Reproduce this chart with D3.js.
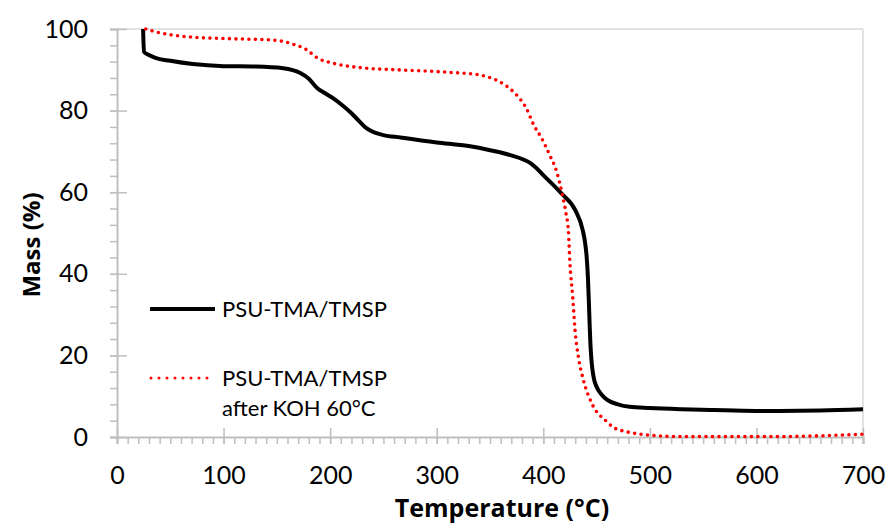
<!DOCTYPE html>
<html>
<head>
<meta charset="utf-8">
<script src="https://cdn.jsdelivr.net/npm/d3@7"></script>
<style>
  body { margin: 0; background: #fff; }
  text { font-family: Lato, "Open Sans", sans-serif; fill: #000; }
</style>
</head>
<body>
<svg id="chart" width="891" height="525"></svg>
<script>
const svg = d3.select("#chart"),
    width = +svg.attr("width"),
    height = +svg.attr("height");

const margin = {top: 29, right: 28, bottom: 88, left: 117};

// PSU-TMA/TMSP (black, solid)
const blackT = [24.5, 25.3, 30, 36, 50, 71, 100, 130, 156, 172, 180, 188, 195, 203, 212, 219, 227, 234, 242, 250, 266, 300, 330, 350, 369, 388, 403, 417, 430, 437, 439.3, 440.8, 441.9, 442.8, 443.5, 444.2, 445, 446, 447.5, 450, 455, 460, 470, 481, 500, 530, 560, 600, 622, 660, 700];
const blackM = [100, 94.4, 93.6, 92.9, 92.2, 91.4, 90.9, 90.8, 90.4, 89.2, 87.8, 85.5, 84.3, 83, 81.2, 79.6, 77.5, 75.7, 74.6, 74, 73.4, 72.2, 71.3, 70.3, 69.1, 67.1, 63.4, 59.7, 55.6, 50.7, 47.5, 43.8, 39, 33, 27.5, 23, 19.5, 16.8, 14.3, 12.3, 10.3, 9.1, 8.0, 7.4, 7.1, 6.8, 6.6, 6.4, 6.4, 6.5, 6.8];

// PSU-TMA/TMSP after KOH 60°C (red, dotted)
const redT = [27, 35, 50, 70, 109, 146, 165, 178, 188, 203, 234, 263, 310, 341, 352, 364, 375, 384, 391, 398.5, 406, 412.6, 417.3, 421.3, 423.5, 425, 427.6, 429.8, 432.9, 437.6, 445.4, 459.5, 465, 478, 491, 528, 580, 622, 660, 700];
const redM = [100, 99.4, 98.6, 98, 97.6, 97.3, 96.3, 94.9, 92.9, 91.6, 90.4, 90.0, 89.4, 88.7, 87.9, 86.3, 83.8, 80.6, 76.5, 73.2, 69.1, 65.0, 60.1, 54.8, 50.7, 42.6, 34.4, 26.2, 19.7, 14.0, 8.3, 3.8, 2.5, 1.3, 0.7, 0.1, 0.1, 0.1, 0.3, 0.7];

const xTicks = [0, 100, 200, 300, 400, 500, 600, 700];
const yTicks = [0, 20, 40, 60, 80, 100];
const legendLabels = [["PSU-TMA/TMSP"], ["PSU-TMA/TMSP", "after KOH 60°C"]];

const x = d3.scaleLinear().domain([0, 700]).range([margin.left, width - margin.right]);
const y = d3.scaleLinear().domain([0, 100]).range([height - margin.bottom, margin.top]);

const axisColor = "#bfbfbf";

// plot border (top and right)
svg.append("line")
    .attr("x1", x(0)).attr("x2", x(700))
    .attr("y1", y(100)).attr("y2", y(100))
    .attr("stroke", "#d9d9d9").attr("stroke-width", 1.5);
svg.append("line")
    .attr("x1", x(700)).attr("x2", x(700))
    .attr("y1", y(100)).attr("y2", y(0))
    .attr("stroke", "#d9d9d9").attr("stroke-width", 1.5);

// y minor ticks
svg.append("g")
    .attr("transform", "translate(" + x(0) + ",0)")
    .call(d3.axisLeft(y).tickValues(d3.range(0, 101, 4)).tickSize(7).tickFormat(""))
    .call(g => g.select(".domain").remove())
    .selectAll("line").attr("stroke", axisColor).attr("stroke-width", 1.5);

// y major
let gy = svg.append("g")
    .attr("transform", "translate(" + x(0) + ",0)")
    .call(d3.axisLeft(y).tickValues(yTicks).tickSize(7).tickPadding(22));
gy.select(".domain").attr("stroke", axisColor).attr("stroke-width", 2);
gy.selectAll("line").attr("stroke", axisColor).attr("stroke-width", 1.5).attr("x1", 10);
gy.selectAll("text").style("font-size", "25px").style("font-family", "Lato, sans-serif");

// x minor ticks
svg.append("g")
    .attr("transform", "translate(0," + y(0) + ")")
    .call(d3.axisBottom(x).tickValues(d3.range(0, 701, 10)).tickSize(7).tickFormat(""))
    .call(g => g.select(".domain").remove())
    .selectAll("line").attr("stroke", axisColor).attr("stroke-width", 1.5);

// x major
let gx = svg.append("g")
    .attr("transform", "translate(0," + y(0) + ")")
    .call(d3.axisBottom(x).tickValues(xTicks).tickSize(7).tickPadding(22));
gx.select(".domain").attr("stroke", axisColor).attr("stroke-width", 2);
gx.selectAll("line").attr("stroke", axisColor).attr("stroke-width", 1.5).attr("y1", -9);
gx.selectAll("text").style("font-size", "25px").style("font-family", "Lato, sans-serif");

// axis titles
svg.append("text")
    .attr("x", (x(0) + x(700)) / 2 + 12)
    .attr("y", 517)
    .attr("text-anchor", "middle")
    .style("font-family", "'Open Sans', sans-serif")
    .style("font-size", "25px")
    .style("font-weight", "bold")
    .text("Temperature (°C)");

svg.append("text")
    .attr("transform", "translate(40,245) rotate(-90)")
    .attr("text-anchor", "middle")
    .style("font-family", "'Open Sans', sans-serif")
    .style("font-size", "24px")
    .style("font-weight", "bold")
    .text("Mass (%)");

// curves
const line = d3.line()
    .x(d => x(d[0]))
    .y(d => y(d[1]))
    .curve(d3.curveMonotoneX);

const blackData = blackT.map((t, i) => [t, blackM[i]]);
const redData = redT.map((t, i) => [t, redM[i]]);

svg.append("path")
    .datum(blackData)
    .attr("d", line)
    .attr("fill", "none")
    .attr("stroke", "#000")
    .attr("stroke-width", 4)
    .attr("stroke-linejoin", "round");

svg.append("path")
    .datum(redData)
    .attr("d", line)
    .attr("fill", "none")
    .attr("stroke", "#ff0000")
    .attr("stroke-width", 3.6)
    .attr("stroke-linecap", "round")
    .attr("stroke-dasharray", "0 6.5");

// legend
const legendY = [309, 378];
svg.append("line")
    .attr("x1", 150).attr("x2", 215)
    .attr("y1", legendY[0]).attr("y2", legendY[0])
    .attr("stroke", "#000").attr("stroke-width", 4);
svg.append("line")
    .attr("x1", 151).attr("x2", 215)
    .attr("y1", legendY[1]).attr("y2", legendY[1])
    .attr("stroke", "#ff0000").attr("stroke-width", 3)
    .attr("stroke-linecap", "round")
    .attr("stroke-dasharray", "0 8");

legendLabels.forEach((lines, i) => {
    lines.forEach((s, j) => {
        svg.append("text")
            .attr("x", 222)
            .attr("y", legendY[i] + 8 + j * 30)
            .style("font-size", "22px")
            .text(s);
    });
});
</script>
</body>
</html>
